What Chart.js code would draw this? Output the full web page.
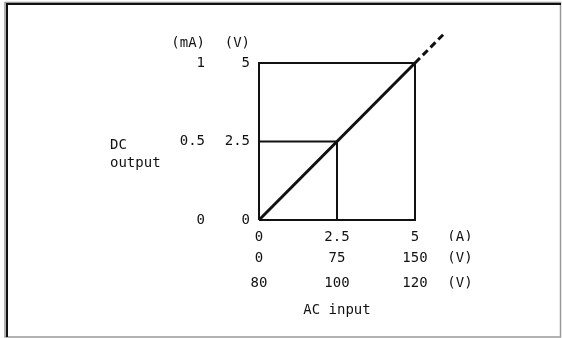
<!DOCTYPE html>
<html>
<head>
<meta charset="utf-8">
<script src="https://cdn.jsdelivr.net/npm/chart.js@4/dist/chart.umd.min.js"></script>
<style>
  html, body { margin: 0; padding: 0; background: #fff; }
  canvas { display: block; }
</style>
</head>
<body>
<canvas id="chart" width="562" height="338"></canvas>
<script>
// tick values of every axis (first = origin, last = full scale)
const ampTicks = [0, 2.5, 5];        // AC input (A)
const acVoltTicks = [0, 75, 150];    // AC input (V)
const acVoltTicks2 = [80, 100, 120]; // AC input (V)
const mATicks = [0, 0.5, 1];         // DC output (mA)
const dcVoltTicks = [0, 2.5, 5];     // DC output (V)

// characteristic line (A -> V), plus its dashed extension
const lineX = [0, 5];
const lineY = [0, 5];
const extX = [5, 5.9];
const extY = [5, 5.9];

// guide lines (in A / V of the main axes)
const frameX = [0, 5, 5, 0, 0];
const frameY = [0, 0, 5, 5, 0];
const halfX = [0, 2.5, 2.5];
const halfY = [2.5, 2.5, 0];

const XMAX = 6.5, XUNIT = 6.44;   // room for the unit column
const YMAX = 5.9, YUNIT = 5.64;   // room for the unit header

const pts = (xs, ys) => xs.map((x, i) => ({ x: x, y: ys[i] }));

// map a position on the main axis onto another axis' units
function mapTo(ticks, pos) {
  return ticks[0] + (pos / 5) * (ticks[ticks.length - 1] - ticks[0]);
}

function xAxis(ticks, unit, weight, height) {
  return {
    type: 'linear',
    position: 'bottom',
    weight: weight,
    min: mapTo(ticks, 0),
    max: mapTo(ticks, XMAX),
    grid: { display: false, drawTicks: false },
    border: { display: false },
    ticks: {
      padding: 8.6,
      autoSkip: false,
      maxRotation: 0,
      callback: (v, i) => i < ticks.length ? String(ticks[i]) : unit
    },
    afterBuildTicks: s => {
      s.ticks = ticks.concat([mapTo(ticks, XUNIT)]).map(v => ({ value: v }));
    },
    afterFit: s => { s.height = height; }
  };
}

function yAxis(ticks, unit, weight, width) {
  return {
    type: 'linear',
    position: 'left',
    weight: weight,
    min: mapTo(ticks, 0),
    max: mapTo(ticks, YMAX),
    grid: { display: false, drawTicks: false },
    border: { display: false },
    ticks: {
      padding: 9,
      autoSkip: false,
      callback: (v, i) => i < ticks.length ? String(ticks[i]) : unit
    },
    afterBuildTicks: s => {
      s.ticks = ticks.concat([mapTo(ticks, YUNIT)]).map(v => ({ value: v }));
    },
    afterFit: s => { s.width = width; }
  };
}

const framePlugin = {
  id: 'frame',
  beforeDraw(chart) {
    const c = chart.ctx;
    c.save();
    c.fillStyle = '#fff';
    c.fillRect(0, 0, chart.width, chart.height);
    c.restore();
  },
  afterDraw(chart) {
    const c = chart.ctx;
    const y = chart.scales.y, x = chart.scales.x;
    c.save();
    // outer frame
    c.strokeStyle = '#999';
    c.lineWidth = 1.5;
    c.strokeRect(5, 2.5, 555.5, 334.5);
    c.strokeStyle = '#111';
    c.lineWidth = 2;
    c.beginPath();
    c.moveTo(7, 337); c.lineTo(7, 4); c.lineTo(561, 4);
    c.stroke();
    // axis titles
    c.fillStyle = '#111';
    c.font = '14px "DejaVu Sans Mono", monospace';
    c.textAlign = 'left';
    c.textBaseline = 'middle';
    const yc = y.getPixelForValue(2.5);
    c.fillText('DC', 110, yc + 4);
    c.fillText('output', 110, yc + 22);
    c.textAlign = 'center';
    c.fillText('AC input', x.getPixelForValue(2.5), 310);
    c.restore();
  }
};

Chart.defaults.font.family = '"DejaVu Sans Mono", monospace';
Chart.defaults.font.size = 14;
Chart.defaults.color = '#111';

const black = '#111';

new Chart(document.getElementById('chart'), {
  type: 'scatter',
  data: {
    datasets: [
      { data: pts(frameX, frameY), showLine: true, borderColor: black, borderWidth: 2, pointRadius: 0, clip: false },
      { data: pts(halfX, halfY), showLine: true, borderColor: black, borderWidth: 2, pointRadius: 0, clip: false },
      { data: pts(lineX, lineY), showLine: true, borderColor: black, borderWidth: 3, pointRadius: 0, clip: false },
      { data: pts(extX, extY), showLine: true, borderColor: black, borderWidth: 3, borderDash: [7, 4], pointRadius: 0, clip: false }
    ]
  },
  options: {
    responsive: false,
    animation: false,
    devicePixelRatio: 1,
    layout: { padding: { left: 154, top: 34.7, right: 100.2, bottom: 19.6 } },
    plugins: { legend: { display: false }, tooltip: { enabled: false } },
    scales: {
      x: xAxis(ampTicks, '(A)', 0, 21),
      x2: xAxis(acVoltTicks, '(V)', 1, 25),
      x3: xAxis(acVoltTicks2, '(V)', 2, 52.4),
      y: yAxis(dcVoltTicks, '(V)', 0, 45),
      y2: yAxis(mATicks, '(mA)', 1, 60)
    }
  },
  plugins: [framePlugin]
});
</script>
</body>
</html>
